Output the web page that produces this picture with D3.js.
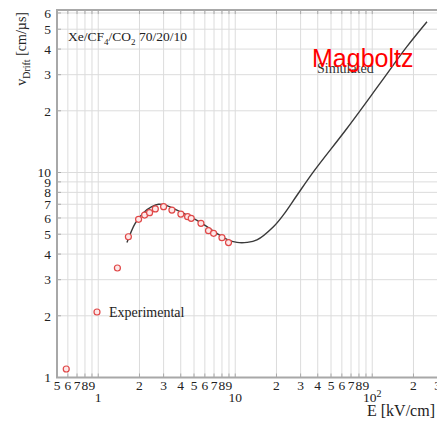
<!DOCTYPE html>
<meta charset="utf-8">
<style>
  body { margin: 0; background: #fff; }
  text { font-family: "Liberation Serif", "DejaVu Serif", serif; fill: #222; }
</style>
<div id="chart"></div>
<script src="https://cdn.jsdelivr.net/npm/d3@7"></script>
<script>
// experimental points (E in kV/cm, v in cm/us as labelled on the axis)
const expE = [0.584, 1.38, 1.66, 1.97, 2.18, 2.37, 2.61, 3.0, 3.45, 4.01, 4.49, 4.77, 5.62, 6.38, 6.95, 8.0, 8.93];
const expV = [1.10, 3.42, 4.86, 5.91, 6.20, 6.37, 6.64, 6.81, 6.56, 6.27, 6.09, 5.98, 5.65, 5.20, 5.05, 4.81, 4.55];

// simulated (Magboltz) curve
const simE = [1.62, 1.86, 2.14, 2.46, 2.76, 3.17, 3.75, 4.69, 5.87, 7.35, 8.7, 10.3, 12.2, 14.4, 19.0, 22.4, 28.0, 37.3, 65.3, 114, 179, 251];
const simV = [4.55, 5.65, 6.37, 6.81, 7.0, 6.89, 6.56, 6.09, 5.59, 5.05, 4.72, 4.56, 4.56, 4.69, 5.44, 6.2, 7.68, 10.1, 16.4, 27.2, 41.1, 54.4];

// grid / tick values and labels
const xGrid = [0.5, 0.6, 0.7, 0.8, 0.9, 1, 2, 3, 4, 5, 6, 7, 8, 9, 10, 20, 30, 40, 50, 60, 70, 80, 90, 100, 200, 300, 400];
const xLabels = [[0.5, "5"], [0.6, "6"], [0.7, "7"], [0.8, "8"], [0.9, "9"],
  [2, "2"], [3, "3"], [4, "4"], [5, "5"], [6, "6"], [7, "7"], [8, "8"], [9, "9"],
  [20, "2"], [30, "3"], [40, "4"], [50, "5"], [60, "6"], [70, "7"], [80, "8"], [90, "9"],
  [200, "2"], [300, "3"]];
const xDecades = [1, 10, 100];
const yGrid = [1, 2, 3, 4, 5, 6, 7, 8, 9, 10, 20, 30, 40, 50, 60];
const yLabels = ["1", "2", "3", "4", "5", "6", "7", "8", "9", "10", "2", "3", "4", "5", "6"];

const W = 437, H = 422;
const svg = d3.select("#chart").append("svg")
    .attr("width", W)
    .attr("height", H);

const x = d3.scaleLog()
    .domain([0.5, 400])
    .range([57, 57 + Math.log10(800) * 137]);
const y = d3.scaleLog()
    .domain([1, 62])
    .range([377.5, 377.5 - Math.log10(62) * 205]);

const pLeft = x.range()[0], pRight = W + 5, pTop = y.range()[1], pBottom = y.range()[0];

// grid
svg.append("g").selectAll("line").data(xGrid).enter().append("line")
    .attr("x1", d => x(d)).attr("x2", d => x(d))
    .attr("y1", pTop).attr("y2", pBottom)
    .attr("stroke", "#dcdcdc").attr("stroke-width", 1);
svg.append("g").selectAll("line").data(yGrid).enter().append("line")
    .attr("x1", pLeft).attr("x2", pRight)
    .attr("y1", d => y(d)).attr("y2", d => y(d))
    .attr("stroke", "#dcdcdc").attr("stroke-width", 1);

// small inward ticks
svg.append("g").selectAll("line").data(xGrid).enter().append("line")
    .attr("x1", d => x(d)).attr("x2", d => x(d))
    .attr("y1", pTop).attr("y2", pTop + 4)
    .attr("stroke", "#aaa");
svg.append("g").selectAll("line").data(xGrid).enter().append("line")
    .attr("x1", d => x(d)).attr("x2", d => x(d))
    .attr("y1", pBottom).attr("y2", pBottom - 4)
    .attr("stroke", "#aaa");
svg.append("g").selectAll("line").data(yGrid).enter().append("line")
    .attr("x1", pLeft).attr("x2", pLeft + 4)
    .attr("y1", d => y(d)).attr("y2", d => y(d))
    .attr("stroke", "#aaa");

// frame
svg.append("path")
    .attr("d", `M${pRight},${pTop}H${pLeft}V${pBottom}H${pRight}`)
    .attr("fill", "none")
    .attr("stroke", "#a8a8a8")
    .attr("stroke-width", 2);

// x tick labels
svg.append("g").selectAll("text").data(xLabels).enter().append("text")
    .attr("x", d => x(d[0]))
    .attr("y", 390)
    .attr("text-anchor", "middle")
    .attr("font-size", 13.5)
    .text(d => d[1]);
const dec = svg.append("g").selectAll("text").data(xDecades).enter().append("text")
    .attr("x", d => x(d))
    .attr("y", 402)
    .attr("text-anchor", "middle")
    .attr("font-size", 13.5);
dec.each(function(d) {
  const t = d3.select(this);
  if (d === 100) {
    t.append("tspan").text("10");
    t.append("tspan").attr("dy", -5).attr("font-size", 10).text("2");
  } else {
    t.text(d);
  }
});

// y tick labels
svg.append("g").selectAll("text").data(yGrid).enter().append("text")
    .attr("x", 51)
    .attr("y", d => y(d))
    .attr("dy", "0.35em")
    .attr("text-anchor", "end")
    .attr("font-size", 13.5)
    .text((d, i) => yLabels[i]);

// axis titles
svg.append("text")
    .attr("x", 435)
    .attr("y", 416)
    .attr("text-anchor", "end")
    .attr("font-size", 16)
    .text("E [kV/cm]");

const yt = svg.append("text")
    .attr("transform", "translate(26,12) rotate(-90)")
    .attr("text-anchor", "end")
    .attr("font-size", 14);
yt.append("tspan").text("v");
yt.append("tspan").attr("dy", 4).attr("font-size", 10).text("Drift");
yt.append("tspan").attr("dy", -4).text(" [cm/\u00b5s]");

// gas mixture label
const gas = svg.append("text")
    .attr("x", 68).attr("y", 41)
    .attr("font-size", 13.5);
gas.append("tspan").text("Xe/CF");
gas.append("tspan").attr("dy", 4).attr("font-size", 9).text("4");
gas.append("tspan").attr("dy", -4).text("/CO");
gas.append("tspan").attr("dy", 4).attr("font-size", 9).text("2");
gas.append("tspan").attr("dy", -4).text(" 70/20/10");

// simulated curve
const simData = simE.map((e, i) => [e, simV[i]]);
svg.append("path")
    .datum(simData)
    .attr("fill", "none")
    .attr("stroke", "#3a3a3a")
    .attr("stroke-width", 1.4)
    .attr("d", d3.line()
      .x(d => x(d[0]))
      .y(d => y(d[1]))
      .curve(d3.curveCatmullRom.alpha(0.5)));

// experimental points
const expData = expE.map((e, i) => [e, expV[i]]);
svg.append("g").selectAll("circle").data(expData).enter().append("circle")
    .attr("cx", d => x(d[0]))
    .attr("cy", d => y(d[1]))
    .attr("r", 3)
    .attr("fill", "#fde8e8")
    .attr("stroke", "#e04848")
    .attr("stroke-width", 1.2);

// legend
svg.append("circle")
    .attr("cx", 97).attr("cy", 312).attr("r", 3)
    .attr("fill", "#fde8e8")
    .attr("stroke", "#e04848")
    .attr("stroke-width", 1.2);
svg.append("text")
    .attr("x", 109).attr("y", 317)
    .attr("font-size", 14)
    .text("Experimental");

svg.append("text")
    .attr("x", 317).attr("y", 73)
    .attr("font-size", 14)
    .style("fill", "#333")
    .text("Simulated");

svg.append("text")
    .attr("x", 312).attr("y", 67)
    .attr("font-size", 25)
    .style("font-family", "'Liberation Sans', Arial, sans-serif")
    .style("fill", "#ff0000")
    .text("Magboltz");
</script>
